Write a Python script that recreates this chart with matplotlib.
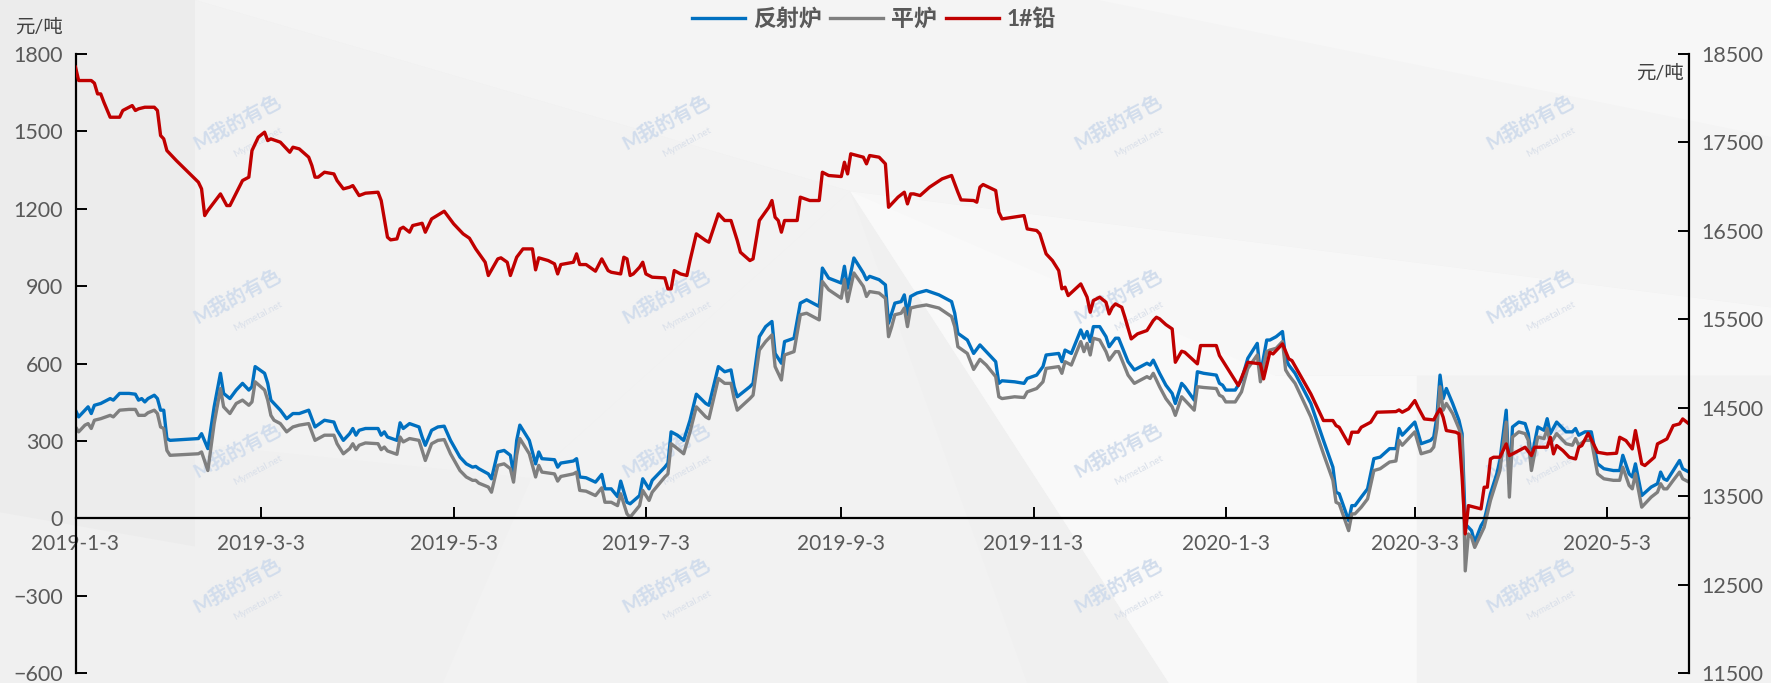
import numpy as np
import pandas as pd
import matplotlib
matplotlib.use('Agg')
import matplotlib.pyplot as plt
import matplotlib.dates as mdates
from matplotlib.ticker import FuncFormatter
from matplotlib.patches import Polygon

plt.rcParams['font.family'] = ['Lato', 'Noto Sans CJK SC', 'DejaVu Sans']

# ---- data ----
start = '2019-01-03'
end = '2020-05-29'
tick_dates = ['2019-01-03', '2019-03-03', '2019-05-03', '2019-07-03', '2019-09-03',
              '2019-11-03', '2020-01-03', '2020-03-03', '2020-05-03']

# days after 2019-01-03, shared by both furnace series
furnace_day = [0, 1, 3, 4, 5, 6, 8, 11, 12, 14, 17, 19, 20, 21, 22, 23, 25, 26, 27, 28,
               29, 30, 39, 40, 42, 44, 46, 47, 49, 51, 53, 55, 56, 57, 60, 61, 62, 63, 65, 67,
               69, 71, 74, 76, 79, 82, 83, 85, 87,
               88, 89, 90, 92, 96, 97, 98, 99, 102, 103, 104, 106, 109, 110, 111, 113, 115, 117, 119, 122,
               124, 126, 127, 128, 131, 132, 134, 136, 138, 139, 140, 141, 144, 146, 147, 148, 152, 153, 154, 158,
               159, 160, 162, 165, 167, 168,
               170, 172, 173, 175, 176, 179, 180, 182, 183, 187, 188, 189, 191, 193, 195, 197, 200, 201, 204, 206,
               208, 209, 210, 214, 215, 217, 219, 221, 222, 224, 225, 228, 230, 232, 236, 237, 239, 243, 244, 245,
               247, 250, 251, 252, 255, 257, 258,
               259, 260, 262, 263, 264, 265, 267, 270, 274, 278, 279, 280, 283, 285, 287, 289, 292, 293, 294, 298,
               301, 302, 305, 307, 308, 312, 313, 314, 316, 319, 320, 321, 322, 323, 325, 327, 328, 330, 331, 334,
               336, 340, 341, 342, 344,
               346, 348, 349, 351, 352, 355, 356, 358, 362, 363, 364, 365, 368, 370, 372, 375, 376, 378, 379, 381,
               383, 384, 385, 387, 392, 396, 399, 400, 401, 404, 405, 406, 408, 410, 412, 414, 417, 419, 420, 421,
               425, 427, 430,
               431, 432, 433, 434, 435, 437, 439, 440, 441, 442, 443, 444, 446, 447, 449, 451, 452, 454, 455, 456,
               458, 460, 461, 462, 464, 466, 467, 468, 470, 472, 473, 475, 476, 477, 479, 481, 483, 485, 488, 490,
               491, 493, 494, 495, 497, 500, 502, 503, 504, 505, 507, 509, 510, 512]

reverb = [419, 393, 419, 432, 406, 438, 445, 464, 458, 484, 484, 481, 458, 464, 451, 464, 477, 464, 419, 419,
          309, 302, 309, 328, 270, 432, 562, 484, 464, 497, 523, 497, 510, 588, 562, 523, 458, 445, 419, 386,
          406, 406, 419, 354, 380, 373, 341, 302, 328,
          348, 322, 341, 348, 348, 322, 335, 315, 302, 370, 348, 367, 354, 315, 283, 341, 354, 357, 302, 237,
          211, 198, 201, 192, 172, 153, 257, 263, 244, 172, 302, 361, 302, 211, 257, 231, 227, 198, 214, 222,
          231, 160, 157, 140, 170, 114,
          114, 84, 144, 62, 56, 88, 153, 114, 147, 198, 214, 335, 322, 302, 380, 481, 445, 438, 588, 568,
          575, 510, 471, 510, 523, 704, 743, 763, 639, 601, 685, 698, 834, 847, 821, 970, 931, 912, 977, 892,
          1009, 951, 925, 938, 925, 905, 756,
          795, 834, 840, 866, 789, 860, 873, 883, 866, 840, 795, 717, 691, 639, 672, 646, 607, 523, 533, 529,
          523, 542, 555, 588, 633, 639, 607, 652, 639, 730, 698, 724, 685, 743, 743, 704, 665, 698, 698, 607,
          575, 601, 594, 613, 562,
          516, 484, 445, 523, 510, 458, 568, 562, 555, 523, 516, 497, 497, 536, 620, 678, 555, 691, 691, 704,
          724, 620, 594, 562, 445, 302, 198, 101, 95, -9, 49, 49, 82, 114, 231, 237, 270, 270, 348, 322,
          373, 289, 302,
          315, 393, 555, 464, 503, 445, 380, 328, -22, -35, -48, -93, -29, -9, 95, 172, 224, 419, 134, 354,
          373, 367, 328, 231, 354, 341, 386, 328, 373, 348, 335, 335, 348, 322, 335, 335, 211, 192, 185, 185,
          244, 172, 160, 211, 88, 121, 134, 179, 153, 147, 185, 224, 192, 179]

flat = [354, 335, 361, 367, 348, 380, 386, 399, 393, 419, 422, 422, 399, 399, 399, 409, 419, 406, 354, 348,
        263, 244, 250, 257, 185, 367, 503, 432, 406, 445, 458, 438, 451, 529, 497, 458, 399, 380, 367, 335,
        354, 361, 367, 302, 322, 322, 289, 250, 270,
        289, 266, 283, 292, 289, 266, 276, 261, 248, 315, 296, 309, 302, 263, 224, 289, 302, 305, 250, 185,
        160, 147, 147, 136, 121, 101, 205, 211, 192, 140, 244, 309, 250, 160, 205, 179, 172, 144, 162, 172,
        179, 108, 105, 88, 118, 62,
        62, 49, 95, 17, 4, 49, 108, 69, 101, 160, 172, 289, 270, 250, 335, 432, 393, 386, 542, 523,
        523, 464, 419, 464, 477, 652, 685, 711, 588, 536, 633, 646, 789, 795, 769, 918, 886, 853, 925, 840,
        951, 899, 860, 879, 873, 853, 704,
        743, 789, 795, 815, 743, 815, 821, 827, 815, 782, 743, 665, 639, 577, 616, 594, 549, 471, 464, 471,
        468, 490, 503, 529, 581, 588, 562, 607, 594, 685, 646, 678, 633, 698, 691, 646, 613, 646, 646, 555,
        523, 549, 542, 562, 510,
        464, 432, 399, 471, 458, 419, 510, 507, 503, 477, 471, 451, 451, 490, 581, 633, 529, 646, 652, 659,
        685, 575, 555, 523, 393, 250, 147, 62, 56, -48, 17, 17, 43, 75, 185, 192, 218, 222, 302, 283,
        335, 250, 261,
        276, 348, 510, 419, 445, 406, 348, 309, -204, -61, -74, -113, -61, -35, 69, 147, 185, 373, 82, 315,
        335, 328, 302, 185, 315, 309, 348, 289, 328, 302, 289, 283, 309, 283, 302, 302, 172, 153, 147, 147,
        198, 127, 114, 172, 43, 82, 101, 134, 114, 114, 147, 179, 153, 140]

# 1# lead price, right axis
lead_day = [0, 1, 5, 6, 7, 8, 9, 11, 14, 15, 18, 19, 20, 22, 25, 26, 27, 28, 29, 32,
            39, 40, 41, 42, 46, 48, 49, 53, 55, 56, 58, 60, 61, 62, 65, 67, 68, 69, 71, 74,
            75, 76, 77, 79, 82, 83, 85, 87,
            88, 90, 92, 96, 97, 99, 100, 102, 103, 104, 106, 107, 110, 111, 113, 117, 120, 123, 125, 127,
            130, 131, 134, 135, 137, 138, 140, 142, 145, 146, 147, 150, 152, 153, 154, 158, 159, 160, 162, 165,
            167, 169,
            170, 173, 174, 175, 176, 177, 179, 180, 181, 183, 187, 188, 189, 190, 192, 194, 195, 197, 200, 201,
            204, 206, 208, 210, 211, 214, 215, 217, 220, 221, 222, 223, 224, 225, 229, 230, 233, 236, 237, 239,
            243, 244, 245, 246, 250, 251, 252, 255, 257, 258,
            259, 261, 263, 264, 265, 266, 268, 271, 275, 278, 280, 281, 285, 286, 287, 288, 292, 293, 294, 299,
            301, 302, 305, 306, 308, 310, 312, 313, 314, 315, 319, 320, 321, 322, 323, 325, 327, 328, 329, 330,
            332, 333, 335, 337, 340, 342, 343, 344,
            346, 348, 349, 351, 352, 356, 357, 362, 363, 364, 369, 372, 376, 377, 379, 380, 383, 385, 386, 392,
            396, 399, 400, 401, 404, 405, 407, 408, 411, 413, 419, 420, 421, 423, 425, 426, 428,
            431, 432, 433, 434, 435, 438, 439, 440, 441, 442, 444, 446, 447, 448, 449, 450, 452, 454, 455, 457,
            460, 462, 463, 467, 468, 469, 470, 472, 474, 476, 477, 478, 480, 483, 486, 489, 490, 492, 494, 495,
            497, 498, 501, 502, 504, 505, 507, 509, 510, 512]

lead = [18351, 18200, 18200, 18170, 18049, 18049, 17955, 17785, 17785, 17861, 17917, 17861, 17880, 17898, 17898, 17861, 17578, 17540, 17408, 17295,
        17050, 16975, 16673, 16730, 16918, 16786, 16786, 17069, 17107, 17408, 17559, 17616, 17521, 17540, 17503, 17427, 17389, 17446, 17427, 17333,
        17239, 17107, 17107, 17163, 17144, 17069, 16975, 16994,
        17012, 16899, 16926, 16937, 16843, 16428, 16398, 16409, 16522, 16541, 16485, 16560, 16586, 16485, 16635, 16722, 16579, 16466, 16417, 16296,
        16145, 15995, 16183, 16195, 16145, 15995, 16202, 16296, 16296, 16059, 16195, 16164, 16127, 16013, 16119, 16145, 16240, 16119, 16119, 16044,
        16183, 16051,
        16032, 16013, 16202, 16183, 15995, 16013, 16089, 16145, 16013, 15976, 15968, 15844, 15844, 16051, 16013, 15995, 16164, 16466, 16390, 16372,
        16692, 16617, 16617, 16390, 16258, 16164, 16183, 16617, 16767, 16843, 16654, 16617, 16485, 16617, 16617, 16881, 16843, 16843, 17163, 17126,
        17114, 17276, 17144, 17371, 17333, 17258, 17352, 17333, 17258, 16767,
        16805, 16881, 16937, 16805, 16918, 16918, 16899, 16994, 17088, 17126, 16937, 16850, 16843, 16824, 16994, 17024, 16956, 16711, 16635, 16662,
        16673, 16522, 16504, 16466, 16240, 16164, 16051, 15844, 15863, 15768, 15900, 15825, 15750, 15580, 15712, 15750, 15693, 15561, 15636, 15674,
        15636, 15523, 15278, 15335, 15373, 15486, 15523, 15505,
        15440, 15391, 15014, 15139, 15127, 14996, 15203, 15203, 15090, 15033, 14750, 15014, 14996, 14826, 15127, 15108, 15222, 15052, 15033, 14656,
        14355, 14355, 14298, 14279, 14091, 14223, 14223, 14279, 14336, 14449, 14456, 14475, 14449, 14487, 14581, 14505, 14373,
        14362, 14430, 14487, 14392, 14242, 14223, 14204, 13714, 13073, 13393, 13374, 13356, 13601, 13601, 13921, 13940, 13940, 14091, 13959, 13996,
        14053, 13959, 14053, 14053, 14166, 13978, 14072, 14015, 13940, 13921, 14053, 14072, 14211, 13996, 13978, 13985, 14166, 14128, 14034, 14242,
        13865, 13846, 13940, 14091, 14128, 14147, 14298, 14317, 14373, 14317]

labels = ['反射炉', '平炉', '1#铅']
colors = ['#0070C0', '#7F7F7F', '#C00000']

# ---- figure ----
W, H = 1771, 683
fig = plt.figure(figsize=(W / 100, H / 100), dpi=100)
fig.patch.set_facecolor('#f0f0f0')

# soft geometric background like the source image
bg = fig.add_axes([0, 0, 1, 1], zorder=-10)
bg.set_xlim(0, 1)
bg.set_ylim(0, 1)
bg.axis('off')
shapes = [
    ([(0.11, 1), (1, 1), (1, 0.55), (0.48, 0.72)], '#f4f4f4'),
    ([(0.62, 1), (1, 1), (1, 0.80)], '#f7f7f7'),
    ([(0.48, 0.72), (1, 0.55), (1, 0.45), (0.72, 0.45), (0.66, 0)], '#f7f7f7'),
    ([(0.48, 0.72), (0.66, 0), (0.80, 0), (0.80, 0.45), (0.72, 0.45)], '#f9f9f9'),
    ([(0.80, 0.45), (1, 0.45), (1, 0), (0.80, 0)], '#f2f2f2'),
    ([(0.11, 1), (0.48, 0.72), (0.30, 0.3), (0.11, 0.35)], '#f2f2f2'),
    ([(0, 1), (0.11, 1), (0.11, 0.2), (0, 0.25)], '#ececec'),
    ([(0.30, 0.3), (0.48, 0.72), (0.58, 0), (0.25, 0)], '#f2f2f2'),
]
for pts, c in shapes:
    bg.add_patch(Polygon(pts, closed=True, fc=c, ec='none'))

# faint site watermarks
for wx in [237, 666, 1118, 1530]:
    for wy in [122, 296, 450, 585]:
        bg.text(wx / W, 1 - wy / H, 'M我的有色', rotation=28, ha='center', va='center',
                fontsize=14, fontweight='bold', color='#d2ddec')
        bg.text(wx / W + 0.012, 1 - wy / H - 0.03, 'Mymetal.net', rotation=28, ha='center',
                va='center', fontsize=7, color='#d9dfe9')

ax = fig.add_axes([75.5 / W, 1 - 673 / H, (1689 - 75.5) / W, (673 - 54) / H])
ax.patch.set_alpha(0)
ax2 = ax.twinx()

x0 = pd.Timestamp(start)
fx = x0 + pd.to_timedelta(furnace_day, unit='D')
lx = x0 + pd.to_timedelta(lead_day, unit='D')

l1, = ax.plot(fx, reverb, color=colors[0], lw=2.4, label=labels[0])
l2, = ax.plot(fx, flat, color=colors[1], lw=2.4, label=labels[1])
l3, = ax2.plot(lx, lead, color=colors[2], lw=2.4, label=labels[2])

ax.set_xlim(x0, pd.Timestamp(end))
ax.set_ylim(-600, 1800)
ax.set_yticks(np.arange(-600, 1801, 300))
ax2.set_ylim(11500, 18500)
ax2.set_yticks(np.arange(11500, 18501, 1000))

ax.set_xticks(pd.to_datetime(tick_dates))


def date_fmt(v, pos):
    d = mdates.num2date(v)
    return f'{d.year}-{d.month}-{d.day}'


ax.xaxis.set_major_formatter(FuncFormatter(date_fmt))

ax.spines['bottom'].set_position(('data', 0))
for s in ['top', 'right']:
    ax.spines[s].set_visible(False)
for s in ['top', 'left', 'bottom']:
    ax2.spines[s].set_visible(False)
for sp in [ax.spines['left'], ax.spines['bottom'], ax2.spines['right']]:
    sp.set_linewidth(1.6)
    sp.set_color('black')

ax.tick_params(axis='x', direction='in', length=8, width=1.4, labelsize=15,
               labelcolor='#595959', pad=11)
ax.tick_params(axis='y', direction='in', length=8, width=1.4, labelsize=15.5,
               labelcolor='#595959', pad=9)
ax2.tick_params(axis='y', direction='in', length=8, width=1.4, labelsize=15.5,
                labelcolor='#595959', pad=9)

fig.text(39 / W, 1 - 27 / H, '元/吨', ha='center', va='center', fontsize=14, color='#404040')
fig.text(1684 / W, 1 - 73 / H, '元/吨', ha='right', va='center', fontsize=14, color='#404040')

fig.legend([l1, l2, l3], labels, loc='center', bbox_to_anchor=(874 / W, 1 - 19 / H), ncol=3,
           frameon=False, prop={'size': 16.5, 'weight': 'bold'}, labelcolor='#595959',
           handlelength=2.3, handletextpad=0.35, columnspacing=0.4)

fig.savefig('out.png', dpi=100, facecolor=fig.get_facecolor())
